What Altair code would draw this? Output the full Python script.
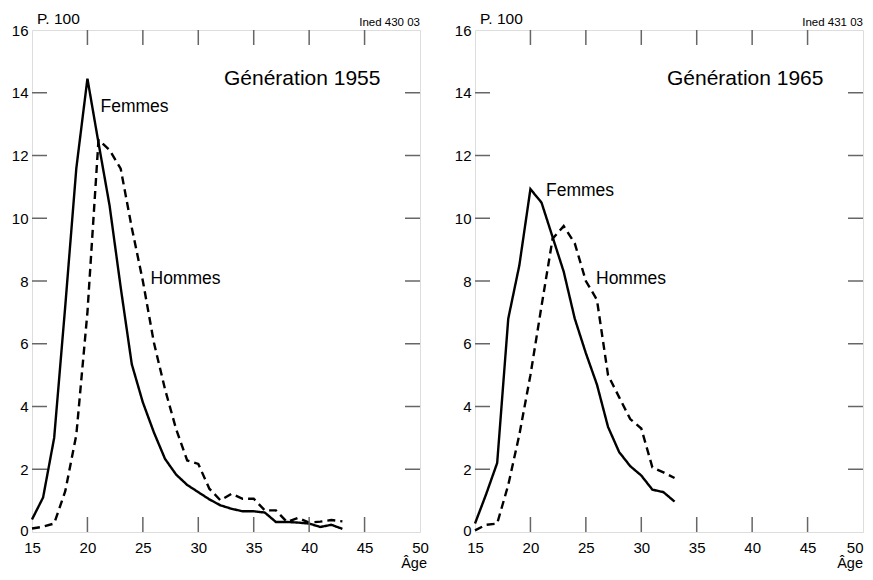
import altair as alt
import pandas as pd

# ---- data ----
ages_1955 = list(range(15, 44))
femmes_1955 = [0.4, 1.1, 3.0, 7.2, 11.6, 14.45, 12.4, 10.4, 7.8, 5.35, 4.13, 3.17, 2.33, 1.83,
               1.5, 1.27, 1.04, 0.85, 0.74, 0.66, 0.66, 0.62, 0.32, 0.32, 0.30, 0.27, 0.16, 0.23, 0.10]
hommes_1955 = [0.11, 0.17, 0.27, 1.3, 3.1, 7.0, 12.5, 12.17, 11.58, 9.7, 8.0, 6.03, 4.55, 3.28,
               2.28, 2.17, 1.38, 1.01, 1.22, 1.06, 1.06, 0.69, 0.69, 0.32, 0.45, 0.30, 0.33, 0.38, 0.34]

ages_1965 = list(range(15, 34))
femmes_1965 = [0.27, 1.2, 2.2, 6.8, 8.5, 10.93, 10.5, 9.4, 8.3, 6.8, 5.7, 4.7, 3.35, 2.55,
               2.1, 1.8, 1.35, 1.27, 0.97]
hommes_1965 = [0.05, 0.23, 0.27, 1.5, 3.1, 5.0, 7.2, 9.35, 9.75, 9.2, 8.0, 7.4, 5.0, 4.3,
               3.6, 3.3, 2.06, 1.9, 1.72]

x_labels = [15, 20, 25, 30, 35, 40, 45, 50]
y_labels = [0, 2, 4, 6, 8, 10, 12, 14, 16]
x_inner_ticks = [20, 25, 30, 35, 40, 45]
y_inner_ticks = [2, 4, 6, 8, 10, 12, 14]

W, H = 388, 502
FONT = "Liberation Sans"
TICK = 15


def panel(ages, fem, hom, gen_title, code, fem_xy, hom_xy, age_x, last_right):
    df = pd.DataFrame({
        "age": ages + ages,
        "val": fem + hom,
        "sexe": ["Femmes"] * len(ages) + ["Hommes"] * len(ages),
    })
    xs = alt.Scale(domain=[15, 50], nice=False, zero=False)
    ys = alt.Scale(domain=[0, 16], nice=False)
    x_align = alt.expr("datum.value == 50 ? 'right' : 'center'") if last_right else "center"
    lines = alt.Chart(df).mark_line(color="black", strokeWidth=2.4, strokeCap="butt").encode(
        x=alt.X("age:Q", scale=xs, title=None,
                axis=alt.Axis(values=x_labels, ticks=False, grid=False, domain=False,
                              labelFontSize=15, labelFont=FONT, labelColor="black",
                              labelPadding=8, labelFlush=False, labelAlign=x_align)),
        y=alt.Y("val:Q", scale=ys, title=None,
                axis=alt.Axis(values=y_labels, ticks=False, grid=False, domain=False,
                              labelFontSize=15, labelFont=FONT, labelColor="black",
                              labelPadding=4, labelFlush=False,
                              labelOffset=alt.expr("datum.value == 0 ? -2 : 0"))),
        strokeDash=alt.StrokeDash("sexe:N", legend=None,
                                  scale=alt.Scale(domain=["Femmes", "Hommes"],
                                                  range=[[1, 0], [8, 5]])),
    )
    tdf_y = pd.DataFrame({"t": y_inner_ticks})
    tdf_x = pd.DataFrame({"t": x_inner_ticks})
    tick_style = dict(color="#666", strokeWidth=1.5)
    yl = alt.Chart(tdf_y).mark_rule(**tick_style).encode(
        y=alt.Y("t:Q", scale=ys), x=alt.value(0), x2=alt.value(TICK))
    yr = alt.Chart(tdf_y).mark_rule(**tick_style).encode(
        y=alt.Y("t:Q", scale=ys), x=alt.value(W - TICK), x2=alt.value(W))
    xt = alt.Chart(tdf_x).mark_rule(**tick_style).encode(
        x=alt.X("t:Q", scale=xs), y=alt.value(0), y2=alt.value(TICK))
    xb = alt.Chart(tdf_x).mark_rule(**tick_style).encode(
        x=alt.X("t:Q", scale=xs), y=alt.value(H - TICK), y2=alt.value(H))

    one = alt.Data(values=[{}])

    def txt(s, x, y, size, align="left"):
        return alt.Chart(one).mark_text(text=s, font=FONT, fontSize=size, align=align,
                                        baseline="alphabetic", color="black").encode(
            x=alt.value(x), y=alt.value(y))

    texts = [
        txt("P. 100", 5, -6, 15.5),
        txt(code, W, -4, 11.5, "right"),
        txt(gen_title, 192, 55, 21),
        txt("Femmes", fem_xy[0], fem_xy[1], 17.5),
        txt("Hommes", hom_xy[0], hom_xy[1], 17.5),
        txt("Âge", age_x, H + 36.3, 14.5, "right"),
    ]
    return alt.layer(lines, yl, yr, xt, xb, *texts).properties(width=W, height=H)


left = panel(ages_1955, femmes_1955, hommes_1955, "Génération 1955", "Ined 430 03",
             (68.5, 81.5), (118.5, 254), W + 7, False)
right = panel(ages_1965, femmes_1965, hommes_1965, "Génération 1965", "Ined 431 03",
              (71, 166), (121, 254), W, True)

chart = alt.hconcat(left, right, spacing=55, bounds="flush").properties(
    padding={"left": 2, "top": 3, "right": 0, "bottom": 0}
).configure_view(stroke="#111", strokeWidth=1.2).configure(background="white")

chart.save("out.html", embed_options={"renderer": "svg", "actions": False})
